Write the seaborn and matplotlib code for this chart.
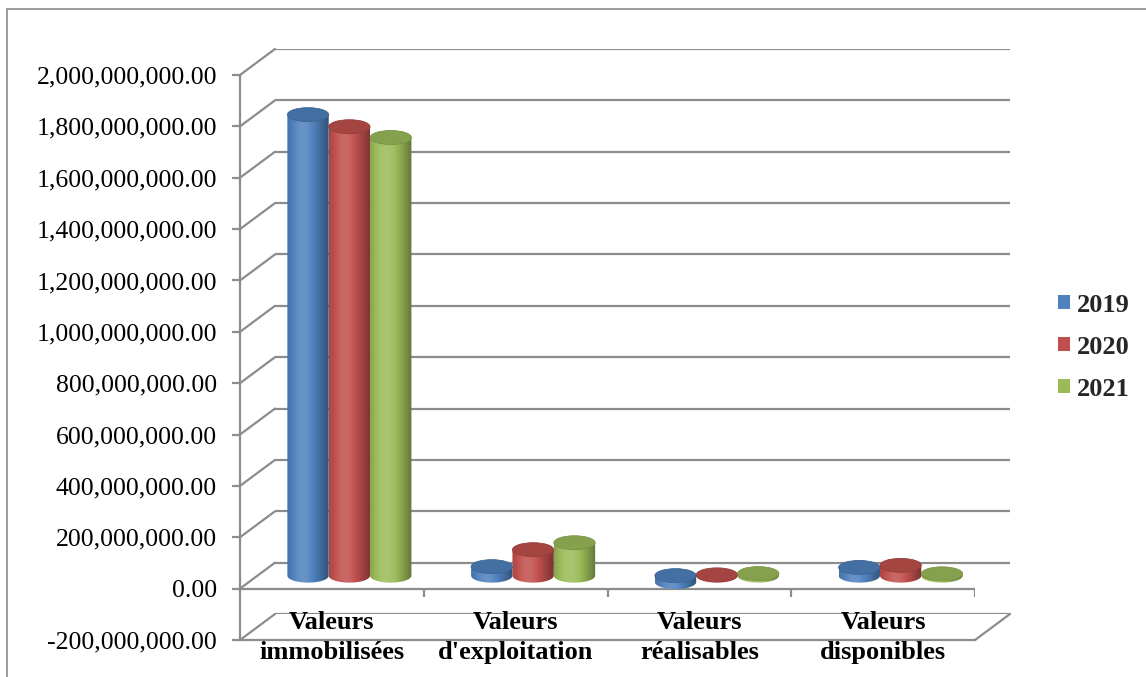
import numpy as np
import pandas as pd
import matplotlib
matplotlib.use("Agg")
import matplotlib.pyplot as plt
import seaborn as sns
from matplotlib.patches import Ellipse, PathPatch, Rectangle, Patch
from matplotlib.path import Path
from matplotlib.lines import Line2D
from matplotlib.colors import to_rgb

# ---- data -------------------------------------------------------------
categories = ["Valeurs\nimmobilisées", "Valeurs\nd'exploitation",
              "Valeurs\nréalisables", "Valeurs\ndisponibles"]
years = ["2019", "2020", "2021"]
values_2019 = [1.795e9, 3.5e7, -2.5e7, 3.2e7]
values_2020 = [1.748e9, 1.01e8, 3.0e6, 4.0e7]
values_2021 = [1.706e9, 1.28e8, 8.0e6, 7.0e6]
y_ticks = np.arange(-2.0e8, 2.0e9 + 1, 2.0e8)
palette = ["#4F81BD", "#C0504D", "#9BBB59"]

df = pd.DataFrame({
    "categorie": categories * 3,
    "annee": [y for y in years for _ in categories],
    "valeur": values_2019 + values_2020 + values_2021,
})

# ---- style ------------------------------------------------------------
sns.set_theme(style="white")
plt.rcParams["font.family"] = ["Liberation Serif", "DejaVu Serif"]
GRID = "#8C8C8C"
LW = 1.6

W, H = 1146, 677
fig = plt.figure(figsize=(W / 100, H / 100), dpi=100)
fig.patch.set_facecolor("white")

# plot box (pixels, origin bottom-left) and depth offset of the 3-D walls
L, R, B, T = 240, 975, 37, 602
DX, DY = 35, 26


def box(l, b, r, t):
    return [l / W, b / H, (r - l) / W, (t - b) / H]


ax_back = fig.add_axes(box(L + DX, B + DY, R + DX, T + DY))
ax_front = fig.add_axes(box(L, B, R, T))
ax_mid = fig.add_axes(box(L + DX / 2, B + DY / 2, R + DX / 2, T + DY / 2))
ax_back.set_zorder(0)
ax_front.set_zorder(1)
ax_mid.set_zorder(2)

ylim = (y_ticks[0], y_ticks[-1])
xlim = (-0.5, len(categories) - 0.5)
for a in (ax_back, ax_front, ax_mid):
    a.set_xlim(*xlim)
    a.set_ylim(*ylim)
    a.patch.set_visible(False)
    for s in a.spines.values():
        s.set_visible(False)

# ---- back wall gridlines ---------------------------------------------
for v in y_ticks:
    ax_back.axhline(v, color=GRID, lw=LW, solid_capstyle="butt")
ax_back.set_xticks([])
ax_back.set_yticks([])

# ---- front frame: value axis, floor and category axis ------------------
ax_front.spines["left"].set_visible(True)
ax_front.spines["left"].set_color(GRID)
ax_front.spines["left"].set_linewidth(LW)
ax_front.spines["bottom"].set_visible(True)
ax_front.spines["bottom"].set_color(GRID)
ax_front.spines["bottom"].set_linewidth(LW)
ax_front.set_yticks(y_ticks)
ax_front.set_yticklabels([f"{v:,.2f}" for v in y_ticks])
ax_front.tick_params(axis="y", left=True, length=5.5, width=LW, color=GRID,
                     pad=11, labelsize=18.5, labelcolor="black")
ax_front.set_xticks(range(len(categories)))
ax_front.set_xticklabels(categories, fontweight="bold", fontsize=19,
                         linespacing=1.38)
ax_front.tick_params(axis="x", bottom=False, length=0, pad=-21,
                     labelcolor="black")

# zero line with category boundary ticks
px_per_unit = (T - B) / (ylim[1] - ylim[0])
tick_len = 8 / px_per_unit
ax_front.axhline(0, color=GRID, lw=LW, solid_capstyle="butt")
bounds = np.arange(len(categories) + 1) - 0.5
ax_front.vlines(bounds[1:], -tick_len, 0, color=GRID, lw=LW)

# diagonals joining the front frame to the back wall
def diag(xv, yv):
    p0 = ax_front.transData.transform((xv, yv))
    p1 = ax_back.transData.transform((xv, yv))
    f0 = fig.transFigure.inverted().transform(p0)
    f1 = fig.transFigure.inverted().transform(p1)
    fig.add_artist(Line2D([f0[0], f1[0]], [f0[1], f1[1]], color=GRID, lw=LW,
                          transform=fig.transFigure, zorder=0.5))


for v in y_ticks:
    diag(xlim[0], v)
diag(xlim[1], ylim[0])

# ---- bars (drawn as cylinders) -----------------------------------------
sns.barplot(data=df, x="categorie", y="valeur", hue="annee",
            order=categories, hue_order=years, palette=palette,
            width=0.675, saturation=1, errorbar=None, legend=False,
            ax=ax_mid)
ax_mid.set_xlim(*xlim)
ax_mid.set_ylim(*ylim)
ax_mid.set_xticks([])
ax_mid.set_yticks([])
ax_mid.set_xlabel("")
ax_mid.set_ylabel("")

cap_h = 14 / px_per_unit


def shade(rgb, n=80):
    t = np.linspace(0, 1, n)
    s = 0.80 + 0.30 * np.cos((t - 0.38) * np.pi * 1.1)
    rgb = np.array(rgb)
    out = np.empty((1, n, 3))
    for i, k in enumerate(s):
        if k <= 1:
            out[0, i] = rgb * k
        else:
            out[0, i] = rgb + (1 - rgb) * (k - 1) * 1.4
    return np.clip(out, 0, 1)


for p in list(ax_mid.patches):
    if not isinstance(p, Rectangle) or p.get_width() == 0:
        continue
    x0, w = p.get_x(), p.get_width()
    y0, h = p.get_y(), p.get_height()
    base = to_rgb(p.get_facecolor())
    p.set_visible(False)
    top, bot = max(y0, y0 + h), min(y0, y0 + h)
    xc = x0 + w / 2
    t = np.linspace(0, np.pi, 60)
    arc = list(zip(xc - (w / 2) * np.cos(t), bot - (cap_h / 2) * np.sin(t)))
    verts = [(x0, top)] + arc + [(x0 + w, top), (x0, top)]
    codes = [Path.MOVETO] + [Path.LINETO] * (len(verts) - 2) + [Path.CLOSEPOLY]
    body = PathPatch(Path(verts, codes), facecolor="none", edgecolor="none",
                     transform=ax_mid.transData)
    ax_mid.add_patch(body)
    im = ax_mid.imshow(shade(base), extent=[x0, x0 + w, bot - cap_h, top + cap_h],
                       aspect="auto", interpolation="bilinear", zorder=3)
    im.set_clip_path(body)
    cap_col = tuple(np.array(base) * 0.86)
    ax_mid.add_patch(Ellipse((xc, top), w, cap_h, facecolor=cap_col,
                             edgecolor=tuple(np.array(base) * 0.78), lw=0.6,
                             zorder=4))

ax_mid.set_xlim(*xlim)
ax_mid.set_ylim(*ylim)

# ---- legend ---------------------------------------------------------------
handles = [Patch(facecolor=c, edgecolor="none") for c in palette]
fig.legend(handles, years, loc="center left",
           bbox_to_anchor=(1058 / W, (H - 347) / H), frameon=False,
           prop={"weight": "bold", "size": 19}, handlelength=0.45,
           handleheight=0.45, handletextpad=0.25, labelspacing=0.72,
           borderpad=0, borderaxespad=0)

# ---- outer chart border -------------------------------------------------
fig.add_artist(Rectangle((7 / W, -0.05), 1.1, (H - 9) / H + 0.05,
                         transform=fig.transFigure, facecolor="none",
                         edgecolor="#8A8A8A", lw=1.2, zorder=0))

fig.savefig("out.png", dpi=100)
